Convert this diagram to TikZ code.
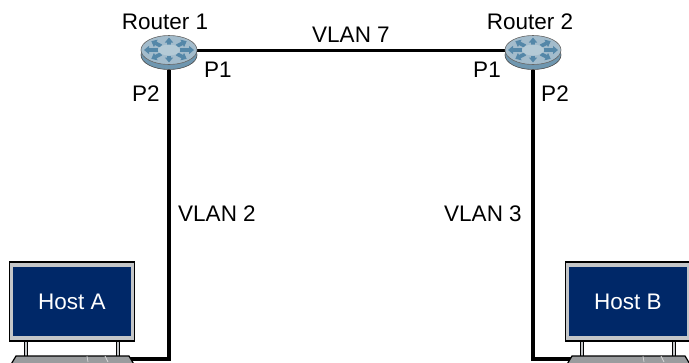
\documentclass[tikz,border=0pt]{standalone}
\usepackage{fontspec}
\setmainfont{Liberation Sans}
\usetikzlibrary{positioning, arrows.meta, shapes.geometric, backgrounds}
\definecolor{hostblue}{HTML}{002868}
\definecolor{framegray}{HTML}{C4C6C8}
\definecolor{keygray}{HTML}{9A9C9E}
\definecolor{routertop}{HTML}{A3BCCC}
\definecolor{routerbody}{HTML}{6F97B0}
\definecolor{routerhub}{HTML}{B4CAD6}
\definecolor{routerspoke}{HTML}{5487A8}

% one router: body, top face, eight spokes
\newcommand{\routericon}[3]{
  \node[routerbase] (#1) at (#2,#3) {};
  \node[routerface] (#1top) at (#2,#3-5) {};
  \foreach \a in {0,45,...,315}
    \draw[spoke] (#2,#3-5) ++(\a:11 and 5.5) -- ++(\a:14 and 7);
  \node[routercore] at (#2,#3-5) {};
}
% one host: frame, screen, legs, keyboard
\newcommand{\hosticon}[3]{
  \draw[leg] (#2+17,341) -- (#2+17,356);
  \draw[leg] (#2+109,341) -- (#2+109,356);
  \draw[keyboard] (#2+7,356) -- (#2+120,356) -- (#2+126,366) -- (#2+1,366) -- cycle;
  \draw[keyline] (#2+78,356) -- (#2+79,362);
  \draw[keyline] (#2+96,356) -- (#2+99,362);
  \node[hostframe] (#1frame) at (#2+63,301.5) {};
  \node[hostscreen] (#1) at (#1frame.center) {#3};
}

\begin{document}
\begin{tikzpicture}[
    x=1pt, y=-1pt,
    every node/.style={font=\fontsize{22.5}{24}\selectfont},
    routerbase/.style={ellipse, draw=black!70, line width=0.6pt, fill=routerbody, minimum width=56pt, minimum height=29pt, inner sep=0pt},
    routerface/.style={ellipse, draw=black!60, line width=0.6pt, fill=routertop, minimum width=56pt, minimum height=29pt, inner sep=0pt},
    routercore/.style={ellipse, fill=routerhub, minimum width=22pt, minimum height=11pt, inner sep=0pt},
    spoke/.style={-{Triangle[length=5pt,width=8pt]}, line width=3.6pt, routerspoke},
    hostframe/.style={rectangle, draw=black, line width=1.3pt, fill=framegray, minimum width=125pt, minimum height=79pt, inner sep=0pt},
    hostscreen/.style={rectangle, fill=hostblue, text=white, minimum width=118pt, minimum height=69pt, inner sep=0pt},
    leg/.style={line width=4pt, black, postaction={draw=framegray, line width=1.6pt}},
    keyboard/.style={draw=black, line width=1.2pt, fill=keygray},
    keyline/.style={white!85!black, line width=0.7pt},
    link/.style={line width=3.4pt, black},
    lbl/.style={inner sep=0pt, text=black}
  ]
  \useasboundingbox (0,0) rectangle (689,362);
  \clip (0,0) rectangle (689,362);

  % Routers
  \routericon{routerA}{169}{55}
  \routericon{routerB}{533}{55}

  % Hosts
  \hosticon{hostA}{9}{Host A}
  \hosticon{hostB}{565}{Host B}

  % Keyboard ends of the links
  \coordinate (kbA) at (128,359);
  \coordinate (kbB) at (572,359);

  % Links
  \begin{scope}[on background layer]
    \draw[link, line width=3pt] (routerAtop) -- (routerBtop);
    \draw[link] (routerA) |- (kbA);
    \draw[link] (routerB) |- (kbB);
  \end{scope}

  % Labels
  \node[lbl] (nameA) at (165,22) {Router 1};
  \node[lbl] (nameB) at (530,22) {Router 2};
  \node[lbl] (vlanS) at (351,35) {VLAN 7};
  \node[lbl] (portA1) at (218,70) {P1};
  \node[lbl] (portA2) at (146,94) {P2};
  \node[lbl] (portB1) at (487,70) {P1};
  \node[lbl] (portB2) at (555,94) {P2};
  \node[lbl] (vlanA) at (217,214) {VLAN 2};
  \node[lbl] (vlanB) at (483,214) {VLAN 3};
\end{tikzpicture}
\end{document}
